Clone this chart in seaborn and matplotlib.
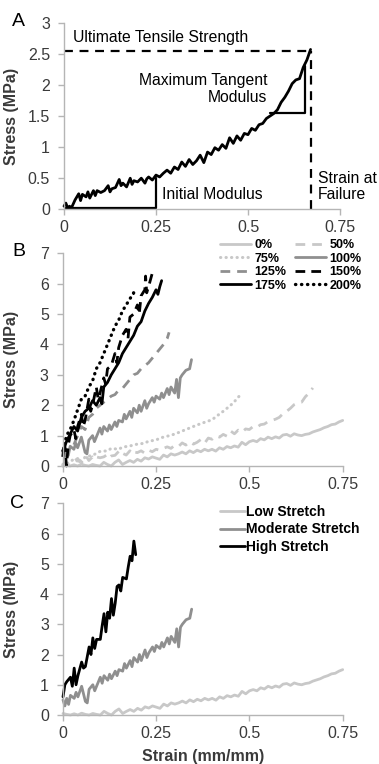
import numpy as np
import pandas as pd
import matplotlib
matplotlib.use("Agg")
import matplotlib.pyplot as plt
import seaborn as sns

# ---------------- data ----------------
# Panel A / 50% curve (strain, stress)
a_x = [0.00, 0.005, 0.01, 0.015, 0.02, 0.03, 0.04, 0.045, 0.05, 0.06, 0.065, 0.07, 0.08, 0.085, 0.09, 0.10,
       0.11, 0.12, 0.125, 0.13, 0.14, 0.15, 0.155, 0.16, 0.17, 0.18, 0.185, 0.19, 0.20, 0.21, 0.22, 0.225,
       0.23, 0.24, 0.25, 0.26, 0.27, 0.28, 0.29, 0.30, 0.31, 0.32, 0.33, 0.34, 0.35, 0.36, 0.37, 0.38,
       0.39, 0.40, 0.41, 0.42, 0.43, 0.44, 0.45, 0.46, 0.47, 0.48, 0.49, 0.50, 0.51, 0.52, 0.53, 0.54,
       0.55, 0.56, 0.57, 0.58, 0.59, 0.60, 0.61, 0.62, 0.63, 0.64, 0.65, 0.66, 0.67]
a_y = [0.05, 0.10, 0.02, 0.05, 0.02, 0.15, 0.25, 0.14, 0.24, 0.20, 0.28, 0.18, 0.30, 0.22, 0.30, 0.27,
       0.30, 0.38, 0.28, 0.33, 0.35, 0.48, 0.38, 0.42, 0.36, 0.50, 0.40, 0.46, 0.44, 0.50, 0.42, 0.49,
       0.52, 0.47, 0.55, 0.52, 0.58, 0.63, 0.58, 0.68, 0.64, 0.76, 0.69, 0.80, 0.72, 0.78, 0.87, 0.75,
       0.92, 0.88, 0.99, 0.95, 1.04, 0.98, 1.15, 1.06, 1.18, 1.11, 1.22, 1.20, 1.30, 1.27, 1.36, 1.38,
       1.46, 1.50, 1.54, 1.60, 1.72, 1.80, 1.90, 2.02, 2.08, 2.10, 2.28, 2.40, 2.57]

# 0% / Low Stretch
low_x = [0.00, 0.01, 0.02, 0.03, 0.04, 0.05, 0.06, 0.07, 0.08, 0.09, 0.10, 0.11, 0.12, 0.13, 0.14, 0.15,
         0.16, 0.17, 0.18, 0.19, 0.20, 0.21, 0.22, 0.23, 0.24, 0.25, 0.26, 0.27, 0.28, 0.29, 0.30, 0.31,
         0.32, 0.33, 0.34, 0.35, 0.36, 0.37, 0.38, 0.39, 0.40, 0.41, 0.42, 0.43, 0.44, 0.45, 0.46, 0.47,
         0.48, 0.49, 0.50, 0.51, 0.52, 0.53, 0.54, 0.55, 0.56, 0.57, 0.58, 0.59, 0.60, 0.61, 0.62, 0.63,
         0.64, 0.65, 0.66, 0.67, 0.68, 0.69, 0.70, 0.71, 0.72, 0.73, 0.74, 0.75]
low_y = [0.05, 0.02, 0.00, 0.04, 0.00, 0.06, 0.02, 0.00, 0.05, 0.02, 0.00, 0.12, 0.05, 0.00, 0.12, 0.20,
         0.05, 0.12, 0.18, 0.12, 0.22, 0.16, 0.27, 0.23, 0.30, 0.26, 0.22, 0.36, 0.30, 0.40, 0.36, 0.40,
         0.46, 0.40, 0.50, 0.44, 0.52, 0.47, 0.55, 0.50, 0.55, 0.49, 0.60, 0.55, 0.64, 0.60, 0.66, 0.62,
         0.78, 0.70, 0.80, 0.84, 0.80, 0.90, 0.86, 0.95, 0.90, 0.96, 0.92, 1.02, 1.04, 0.98, 1.06, 1.02,
         1.00, 1.04, 1.06, 1.12, 1.16, 1.20, 1.26, 1.30, 1.36, 1.38, 1.45, 1.50]

# 75%
p75_x = [0.00, 0.02, 0.03, 0.05, 0.06, 0.08, 0.10, 0.12, 0.13, 0.15, 0.16, 0.18, 0.20, 0.22, 0.23, 0.25,
         0.26, 0.28, 0.30, 0.32, 0.34, 0.36, 0.385, 0.40, 0.41, 0.43, 0.45, 0.46, 0.475]
p75_y = [0.00, 0.15, 0.22, 0.10, 0.30, 0.35, 0.48, 0.50, 0.58, 0.55, 0.62, 0.66, 0.72, 0.75, 0.82, 0.85,
         0.92, 0.98, 1.05, 1.15, 1.25, 1.35, 1.46, 1.52, 1.62, 1.80, 2.00, 2.12, 2.33]

# 100% / Moderate Stretch
mod_x = [0.000, 0.005, 0.010, 0.015, 0.020, 0.030, 0.035, 0.040, 0.050, 0.055, 0.060, 0.065, 0.070, 0.080,
         0.085, 0.090, 0.100, 0.105, 0.110, 0.120, 0.125, 0.130, 0.140, 0.145, 0.150, 0.160, 0.165, 0.170,
         0.180, 0.185, 0.190, 0.200, 0.205, 0.210, 0.220, 0.225, 0.230, 0.240, 0.245, 0.250, 0.260, 0.265,
         0.270, 0.280, 0.285, 0.290, 0.300, 0.305, 0.310, 0.315, 0.320, 0.330, 0.340, 0.345]
mod_y = [0.50, 0.30, 0.55, 0.35, 0.65, 0.55, 0.75, 0.60, 0.95, 0.70, 0.45, 0.40, 0.85, 1.00, 0.80, 0.95,
         1.25, 1.05, 1.30, 1.15, 1.35, 1.20, 1.45, 1.30, 1.50, 1.45, 1.70, 1.55, 1.80, 1.60, 1.90, 1.75,
         2.00, 1.80, 2.15, 1.90, 2.05, 2.25, 2.10, 2.30, 2.20, 2.40, 2.25, 2.55, 2.35, 2.60, 2.40, 2.85,
         2.25, 2.90, 3.00, 3.15, 3.20, 3.50]

# 125%
p125_x = [0.03, 0.04, 0.05, 0.06, 0.07, 0.08, 0.09, 0.10, 0.11, 0.12, 0.13, 0.14, 0.15, 0.16, 0.17, 0.18,
          0.19, 0.20, 0.21, 0.22, 0.23, 0.24, 0.25, 0.26, 0.27, 0.28, 0.285]
p125_y = [0.70, 1.00, 1.30, 1.20, 1.60, 1.70, 1.90, 2.00, 2.10, 2.20, 2.30, 2.35, 2.50, 2.55, 2.70, 2.85,
          3.00, 3.05, 3.20, 3.30, 3.40, 3.55, 3.70, 3.85, 4.00, 4.20, 4.40]

# 150%
p150_x = [0.000, 0.005, 0.010, 0.015, 0.020, 0.030, 0.035, 0.040, 0.050, 0.055, 0.060, 0.070, 0.075, 0.080,
          0.090, 0.095, 0.100, 0.110, 0.115, 0.120, 0.130, 0.140, 0.145, 0.150, 0.160, 0.170, 0.175, 0.180,
          0.190, 0.200, 0.205, 0.210, 0.220, 0.222, 0.225, 0.230, 0.240]
p150_y = [0.30, 0.80, 0.00, 0.70, 1.00, 1.20, 0.90, 1.30, 1.70, 1.30, 1.50, 2.20, 1.80, 2.00, 2.60, 2.20,
          2.40, 2.90, 2.70, 3.20, 3.30, 3.70, 3.40, 3.90, 4.30, 4.50, 4.20, 4.90, 5.00, 5.30, 5.00, 5.60,
          5.80, 6.25, 5.70, 5.90, 6.35]

# 175%
p175_x = [0.000, 0.010, 0.020, 0.030, 0.040, 0.050, 0.060, 0.070, 0.080, 0.090, 0.100, 0.105, 0.110, 0.120,
          0.130, 0.140, 0.150, 0.160, 0.170, 0.180, 0.190, 0.200, 0.210, 0.220, 0.230, 0.240, 0.250, 0.255,
          0.260, 0.265]
p175_y = [0.50, 0.80, 1.05, 1.30, 1.15, 1.60, 1.80, 1.90, 2.15, 2.00, 2.25, 2.05, 2.60, 2.75, 3.00, 3.20,
          3.40, 3.70, 3.90, 4.10, 4.30, 4.60, 4.75, 5.10, 5.35, 5.55, 5.80, 5.65, 5.90, 6.10]

# 200%
p200_x = [0.005, 0.010, 0.020, 0.030, 0.040, 0.050, 0.060, 0.070, 0.080, 0.090, 0.100, 0.110, 0.120, 0.130,
          0.140, 0.150, 0.160, 0.170, 0.180, 0.190, 0.200]
p200_y = [0.70, 1.00, 1.20, 1.50, 1.85, 2.20, 2.30, 2.60, 2.80, 3.20, 3.40, 3.70, 4.00, 4.30, 4.60, 4.80,
          5.10, 5.30, 5.50, 5.70, 5.60]

# High Stretch
high_x = [0.000, 0.005, 0.010, 0.020, 0.025, 0.030, 0.035, 0.040, 0.050, 0.055, 0.060, 0.070, 0.075, 0.080,
          0.085, 0.090, 0.100, 0.105, 0.110, 0.115, 0.120, 0.125, 0.130, 0.135, 0.140, 0.145, 0.150, 0.155,
          0.160, 0.170, 0.175, 0.180, 0.185, 0.190, 0.195]
high_y = [0.60, 1.00, 1.10, 1.25, 0.95, 1.55, 1.00, 1.30, 1.75, 1.55, 1.60, 2.25, 2.00, 2.55, 2.20, 2.50,
          2.50, 2.95, 3.35, 2.75, 3.40, 3.20, 3.85, 3.30, 3.70, 4.25, 4.30, 4.10, 4.55, 4.50, 4.90, 5.25,
          5.10, 5.75, 5.30]

x_ticks = [0, 0.25, 0.5, 0.75]
x_tick_labels = ["0", "0.25", "0.5", "0.75"]
ya_ticks = [0, 0.5, 1, 1.5, 2, 2.5, 3]
ya_tick_labels = ["0", "0.5", "1", "1.5", "2", "2.5", "3"]
yb_ticks = [0, 1, 2, 3, 4, 5, 6, 7]

# Annotation values for panel A
init_strain = 0.25
tangent_x = [0.56, 0.655]
tangent_y = [1.55, 2.30]

# ---------------- style ----------------
sns.set_theme(style="white")
plt.rcParams["font.family"] = ["Liberation Sans", "DejaVu Sans"]

LIGHT = "#c8c8c8"
MID = "#8f8f8f"
DARK = "#000000"
SPINE = "#b5b5b5"
TXT = "#3a3a3a"
FS = 11.5

W, H = 379, 764
fig = plt.figure(figsize=(W / 100, H / 100), dpi=100)

def axbox(l, r, t, b):
    return [l / W, 1 - b / H, (r - l) / W, (b - t) / H]

axA = fig.add_axes(axbox(64, 340, 22.7, 209.3))
axB = fig.add_axes(axbox(62.7, 342.7, 253.3, 466))
axC = fig.add_axes(axbox(63, 342.7, 503.3, 715))

def style(ax, yticks, ylabels, ymax, labx):
    ax.set_xlim(0, 0.75)
    ax.set_ylim(0, ymax)
    ax.set_xticks(x_ticks)
    ax.set_xticklabels(x_tick_labels)
    ax.set_yticks(yticks)
    ax.set_yticklabels(ylabels)
    for s in ["top", "right"]:
        ax.spines[s].set_visible(False)
    for s in ["left", "bottom"]:
        ax.spines[s].set_color(SPINE)
        ax.spines[s].set_linewidth(1.0)
    ax.tick_params(axis="both", which="both", direction="out", length=4, width=1.0,
                   color=SPINE, labelcolor=TXT, labelsize=FS, pad=4, left=True, bottom=True)
    ax.tick_params(axis="y", pad=6)
    ax.set_ylabel("Stress (MPa)", fontsize=FS, fontweight="bold", color=TXT)
    ax.yaxis.set_label_coords(labx, 0.5)
    ax.set_xlabel("")
    ax.grid(False)

def line(ax, x, y, color, lw=2.0, label=None, dash=None):
    df = pd.DataFrame({"x": x, "y": y})
    sns.lineplot(data=df, x="x", y="y", ax=ax, color=color, linewidth=lw, sort=False,
                 estimator=None, label=label, legend=False, clip_on=False)
    ln = ax.lines[-1]
    if dash is not None:
        ln.set_dashes(dash)
        ln.set_dash_capstyle("butt" if dash[0] > 1 else "round")
    return ln

# ---------------- Panel A ----------------
line(axA, a_x, a_y, DARK, lw=2.0)
uts = max(a_y)
fail = a_x[int(np.argmax(a_y))]
axA.plot([0, fail], [uts - 0.02, uts - 0.02], color=DARK, lw=1.6, dashes=(4, 3), clip_on=False)
axA.plot([fail, fail], [0, uts - 0.02], color=DARK, lw=1.6, dashes=(4, 3), clip_on=False)
init_stress = float(np.interp(init_strain, a_x, a_y))
axA.plot([0, init_strain, init_strain], [0.02, 0.02, init_stress - 0.05], color=DARK, lw=1.6)
axA.plot([tangent_x[0], tangent_x[1], tangent_x[1]], [tangent_y[0], tangent_y[0], tangent_y[1]],
         color=DARK, lw=1.6)
fsA = 11.3
axA.text(0.024, 2.77, "Ultimate Tensile Strength", fontsize=fsA, color=DARK, va="center", ha="left")
axA.text(0.553, 1.94, "Maximum Tangent\nModulus", fontsize=fsA, color=DARK, va="center", ha="right",
         multialignment="right", linespacing=1.15)
axA.text(0.267, 0.24, "Initial Modulus", fontsize=fsA, color=DARK, va="center", ha="left")
axA.text(0.69, 0.37, "Strain at\nFailure", fontsize=fsA, color=DARK, va="center", ha="left",
         linespacing=1.05)
style(axA, ya_ticks, ya_tick_labels, 3, -0.163)

# ---------------- Panel B ----------------
h0 = line(axB, low_x, low_y, LIGHT, lw=2.0, label="0%")
h50 = line(axB, a_x, a_y, LIGHT, lw=2.0, label="50%", dash=(3.5, 2.5))
h75 = line(axB, p75_x, p75_y, LIGHT, lw=2.2, label="75%", dash=(0.1, 1.7))
h100 = line(axB, mod_x, mod_y, MID, lw=2.0, label="100%")
h125 = line(axB, p125_x, p125_y, MID, lw=2.0, label="125%", dash=(3.5, 2.5))
h150 = line(axB, p150_x, p150_y, DARK, lw=2.0, label="150%", dash=(3.5, 2.2))
h175 = line(axB, p175_x, p175_y, DARK, lw=2.0, label="175%")
h200 = line(axB, p200_x, p200_y, DARK, lw=2.4, label="200%", dash=(0.1, 1.7))
for h in (h75, h200):
    h.set_dash_capstyle("round")
style(axB, yb_ticks, [str(t) for t in yb_ticks], 7, -0.156)
handles = [h0, h75, h125, h175, h50, h100, h150, h200]
leg = axB.legend(handles=handles, labels=[h.get_label() for h in handles], ncol=2,
                 loc="upper left", bbox_to_anchor=(0.562, 1.067), frameon=False,
                 prop={"weight": "bold", "size": 9}, handlelength=2.5, handletextpad=0.25,
                 columnspacing=0.7, labelspacing=0.12, borderaxespad=0.0, borderpad=0.0)
for t in leg.get_texts():
    t.set_color(DARK)

# ---------------- Panel C ----------------
hl = line(axC, low_x, low_y, LIGHT, lw=2.0, label="Low Stretch")
hm = line(axC, mod_x, mod_y, MID, lw=2.0, label="Moderate Stretch")
hh = line(axC, high_x, high_y, DARK, lw=2.0, label="High Stretch")
style(axC, yb_ticks, [str(t) for t in yb_ticks], 7, -0.156)
legC = axC.legend(handles=[hl, hm, hh], labels=["Low Stretch", "Moderate Stretch", "High Stretch"],
                  loc="upper left", bbox_to_anchor=(0.561, 0.992), frameon=False,
                  prop={"weight": "bold", "size": 10}, handlelength=1.8, handletextpad=0.05,
                  labelspacing=0.25, borderaxespad=0.0, borderpad=0.0)
for t in legC.get_texts():
    t.set_color(DARK)
axC.set_xlabel("Strain (mm/mm)", fontsize=FS, fontweight="bold", color=TXT, labelpad=6)

# panel letters
fig.text(18 / W, 1 - 21 / H, "A", fontsize=14, color=DARK, ha="center", va="center")
fig.text(19 / W, 1 - 252 / H, "B", fontsize=14, color=DARK, ha="center", va="center")
fig.text(17 / W, 1 - 503 / H, "C", fontsize=14, color=DARK, ha="center", va="center")

fig.savefig("out.png", dpi=100)
